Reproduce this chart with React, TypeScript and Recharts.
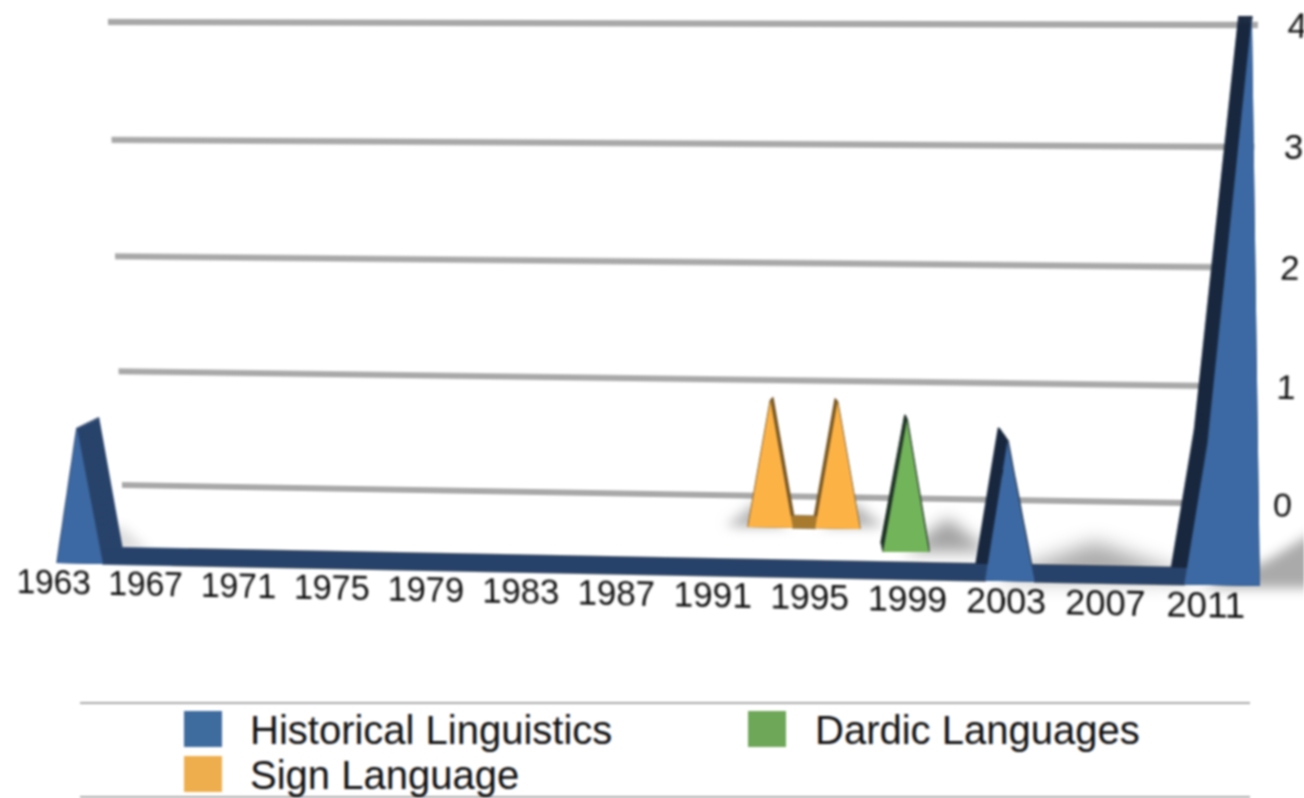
import { AreaChart, Area, XAxis, YAxis, CartesianGrid } from 'recharts';

type Pt = [number, number];
type Quad = [Pt, Pt, Pt, Pt]; // top left, top right, bottom right, bottom left

const FONT = '"Liberation Sans", Arial, sans-serif';

const yTicks = [0, 1, 2, 3, 4];
const xTicks = [1963, 1967, 1971, 1975, 1979, 1983, 1987, 1991, 1995, 1999, 2003, 2007, 2011];

const historicalYears = [1963, 1964, 1965, 2002, 2003, 2004, 2010, 2011, 2013];
const historicalValues = [0, 1, 0, 0, 1, 0, 0, 1, 4];
const signYears = [1992, 1993, 1994, 1995, 1996, 1997];
const signValues = [0, 1, 0, 0, 1, 0];
const dardicYears = [1998, 1999, 2000];
const dardicValues = [0, 1, 0];

const legendNames = ['Historical Linguistics', 'Dardic Languages', 'Sign Language'];

const rows = (years: number[], values: number[]) => years.map((year, i) => ({ year, value: values[i] }));

const historical = rows(historicalYears, historicalValues);
const sign = rows(signYears, signValues);
const dardic = rows(dardicYears, dardicValues);

// room around the plot so tick text is not cut by the svg
const PAD_LEFT = 60;
const PAD_TOP = 30;

// the picture is a fake 3d one, so each flat chart gets warped onto its plane
function warp(w: number, h: number, q: Quad) {
  const [[x0, y0], [x1, y1], [x2, y2], [x3, y3]] = q;
  const dx1 = x1 - x2, dx2 = x3 - x2, dx3 = x0 - x1 + x2 - x3;
  const dy1 = y1 - y2, dy2 = y3 - y2, dy3 = y0 - y1 + y2 - y3;
  const den = dx1 * dy2 - dx2 * dy1;
  const g = (dx3 * dy2 - dx2 * dy3) / den;
  const k = (dx1 * dy3 - dx3 * dy1) / den;
  const a = x1 - x0 + g * x1, b = x3 - x0 + k * x3;
  const d = y1 - y0 + g * y1, e = y3 - y0 + k * y3;
  return `matrix3d(${a / w},${d / w},0,${g / w},${b / h},${e / h},0,${k / h},0,0,1,0,${x0},${y0},0,1)`;
}

const mix = (p: Quad, q: Quad, t: number) =>
  p.map((pt, i) => [pt[0] + (q[i][0] - pt[0]) * t, pt[1] + (q[i][1] - pt[1]) * t]) as Quad;

interface PlaneProps {
  quad: Quad;
  data: { year: number; value: number }[];
  domain: [number, number];
  top: number;
  fill?: string;
  stroke?: string;
  blur?: number;
  opacity?: number;
  labels?: boolean;
  grid?: boolean;
}

function Plane({ quad, data, domain, top, fill = 'none', stroke = 'none', blur, opacity, labels, grid }: PlaneProps) {
  const w = Math.round(quad[2][0] - quad[3][0]);
  const h = Math.round(quad[3][1] - quad[0][1]);
  const right = grid ? 110 : 10;
  const bottom = labels ? 60 : 30;
  return (
    <div
      style={{
        position: 'absolute',
        left: 0,
        top: 0,
        transformOrigin: '0 0',
        transform: `${warp(w, h, quad)} translate(${-PAD_LEFT}px, ${-PAD_TOP}px)`,
        filter: blur ? `blur(${blur}px)` : undefined,
        opacity,
      }}
    >
      <AreaChart
        width={PAD_LEFT + w + right}
        height={PAD_TOP + h + bottom}
        data={data}
        margin={{ top: PAD_TOP, left: PAD_LEFT, right: grid ? 0 : right, bottom: labels ? 0 : bottom }}
      >
        <defs>
          <linearGradient id="histSide" x1="0" y1="0" x2="1" y2="0">
            <stop offset="0.1" stopColor="#27426a" />
            <stop offset="0.1" stopColor="#17263d" />
          </linearGradient>
        </defs>
        {grid && <CartesianGrid vertical={false} stroke="#a8a8a8" strokeWidth={6} />}
        <XAxis
          dataKey="year"
          type="number"
          domain={domain}
          ticks={labels ? xTicks : undefined}
          hide={!labels}
          height={60}
          interval={0}
          axisLine={false}
          tickLine={false}
          tickMargin={0}
          tick={{ fill: '#111', fontSize: 35, fontFamily: FONT, dx: -4 }}
        />
        <YAxis
          type="number"
          domain={[0, top]}
          ticks={grid ? yTicks : undefined}
          orientation="right"
          hide={!grid}
          width={110}
          interval={0}
          axisLine={false}
          tickLine={false}
          tickMargin={22}
          tick={{ fill: '#111', fontSize: 33, fontFamily: FONT }}
        />
        <Area dataKey="value" type="linear" fill={fill} fillOpacity={1} stroke={stroke} strokeWidth={1.5} dot={false} activeDot={false} isAnimationActive={false} />
      </AreaChart>
    </div>
  );
}

// dark side of a series: copies stepping from the back plane to the front plane
function Side({ front, back, steps, ...rest }: { front: Quad; back: Quad; steps: number; data: PlaneProps['data']; domain: [number, number]; top: number; fill: string }) {
  const list = [];
  for (let i = 0; i <= steps; i++) list.push(i / steps);
  return (
    <>
      {list.map((t) => (
        <Plane key={t} quad={mix(back, front, t)} stroke={rest.fill} {...rest} />
      ))}
    </>
  );
}

const wallQuad: Quad = [[108, 22], [1258, 25], [1244, 504], [122, 485]];

const histFront: Quad = [[45, 20], [1252, 16], [1260, 586], [57, 563]];
const histBack: Quad = [[72, 28], [1239, 16], [1246, 569], [78, 547]];
const histFloor: Quad = [[78, 547], [1246, 569], [1260, 586], [57, 563]];

const signFront: Quad = [[748, 400], [860, 402], [860, 529], [748, 527]];
const signBack: Quad = [[752, 397], [856, 399], [856, 517], [752, 515]];
const signFloor: Quad = [[752, 515], [856, 517], [860, 529], [748, 527]];

const dardicFront: Quad = [[883, 420], [931, 420], [929, 552], [883, 552]];
const dardicBack: Quad = [[881, 415], [929, 415], [927, 543], [881, 543]];

// shadows lying on the floor
const shadow1964: Quad = [[90, 525], [150, 525], [150, 552], [90, 552]];
const shadow2003: Quad = [[990, 542], [1200, 542], [1200, 580], [990, 580]];
const shadowEnd: Quad = [[1200, 480], [1400, 480], [1400, 588], [1200, 588]];
const shadowSign: Quad = [[722, 503], [888, 503], [884, 527], [726, 527]];
const shadowDardic: Quad = [[905, 518], [990, 518], [990, 552], [905, 552]];

const blue = '#3c69a3';
const orange = '#fdb245';
const green = '#72b45a';

const legendItems = [
  { name: legendNames[0], color: '#3f6c9f', swatch: 184, text: 250, y: 711 },
  { name: legendNames[1], color: '#6ea758', swatch: 748, text: 815, y: 711 },
  { name: legendNames[2], color: '#eeae4d', swatch: 184, text: 250, y: 756 },
];

export default function App() {
  return (
    <div style={{ position: 'fixed', left: 0, top: 0, width: 1304, height: 798, overflow: 'hidden', background: '#fff', filter: 'blur(0.9px)', fontFamily: FONT }}>
      <Plane quad={wallQuad} data={historical} domain={[1963, 2013]} top={4} grid />

      {/* soft floor shadows */}
      <Plane quad={shadow1964} data={historical.filter((r) => r.year <= 1965)} domain={[1963, 1965]} top={1} fill="#555" blur={6} opacity={0.2} />
      <Plane quad={shadow2003} data={historical.filter((r) => r.year >= 2002 && r.year <= 2004)} domain={[2002, 2004]} top={1} fill="#555" blur={10} opacity={0.5} />
      <Plane quad={shadowEnd} data={historical.filter((r) => r.year >= 2010)} domain={[2010, 2013]} top={4} fill="#555" blur={6} opacity={0.5} />
      <Plane quad={shadowSign} data={sign} domain={[1992, 1997]} top={1} fill="#555" blur={6} opacity={0.45} />
      <Plane quad={shadowDardic} data={dardic} domain={[1998, 2000]} top={1} fill="#555" blur={8} opacity={0.55} />

      <Side front={signFront} back={signBack} steps={4} data={sign} domain={[1992, 1997]} top={1} fill="#7a5a25" />
      <Plane quad={signFloor} data={rows([1992, 1997], [1, 1])} domain={[1992, 1997]} top={1} fill="#a87a2e" />
      <Plane quad={signFront} data={sign} domain={[1992, 1997]} top={1} fill={orange} />

      <Side front={dardicFront} back={dardicBack} steps={5} data={dardic} domain={[1998, 2000]} top={1} fill="#1f3325" />
      <Plane quad={dardicFront} data={dardic} domain={[1998, 2000]} top={1} fill={green} />

      <Side front={histFront} back={histBack} steps={16} data={historical} domain={[1963, 2013]} top={4} fill="url(#histSide)" />
      <Plane quad={histFloor} data={rows([1963, 2013], [1, 1])} domain={[1963, 2013]} top={1} fill="#27426a" />
      <Plane quad={histFront} data={historical} domain={[1963, 2013]} top={4} fill={blue} labels />

      {/* legend */}
      <div style={{ position: 'absolute', left: 80, top: 702, width: 1170, height: 2, background: '#aaa' }} />
      <div style={{ position: 'absolute', left: 80, top: 796, width: 1170, height: 2, background: '#aaa' }} />
      {legendItems.map((item) => (
        <div key={item.name}>
          <div style={{ position: 'absolute', left: item.swatch, top: item.y, width: 38, height: 36, background: item.color }} />
          <div style={{ position: 'absolute', left: item.text, top: item.y - 1, fontSize: 40, lineHeight: '40px', color: '#111', whiteSpace: 'nowrap' }}>{item.name}</div>
        </div>
      ))}
    </div>
  );
}
